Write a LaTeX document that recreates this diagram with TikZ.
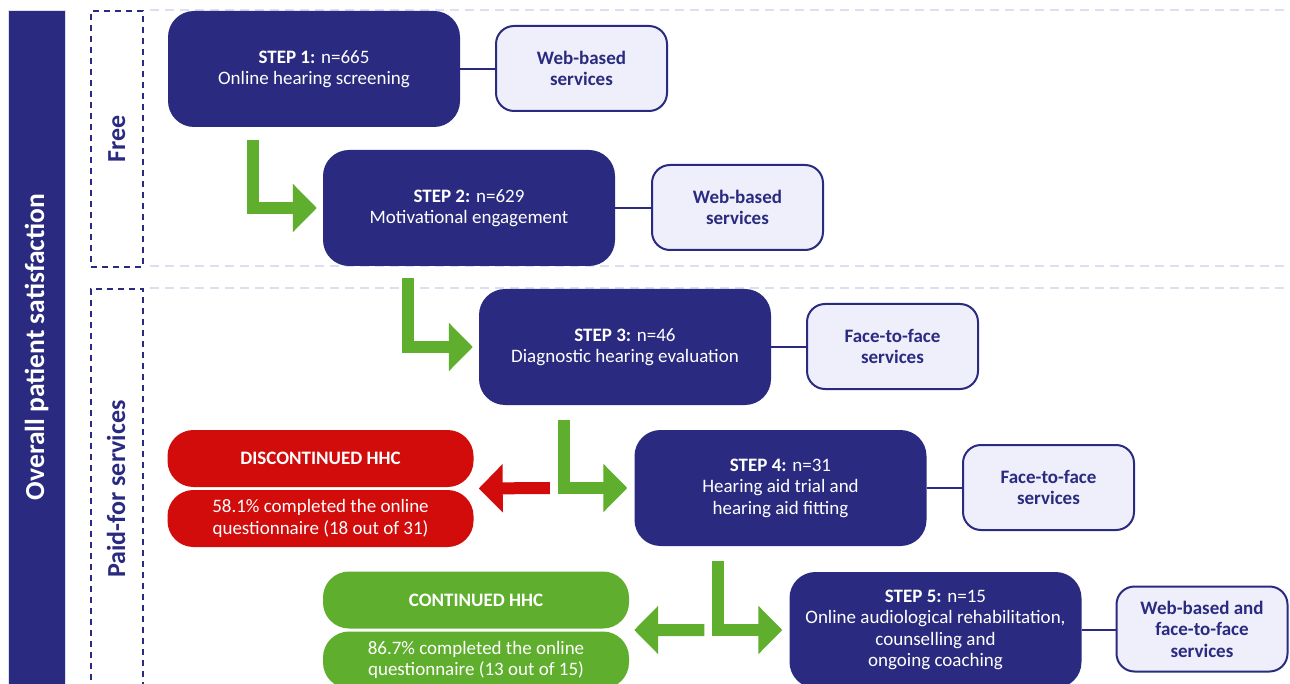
\documentclass[tikz,border=0pt]{standalone}
\usepackage{fontspec}
\setmainfont{Carlito}
\usetikzlibrary{arrows.meta,calc}
\definecolor{navy}{HTML}{2A2B80}
\definecolor{svcfill}{HTML}{EEEFFA}
\definecolor{hred}{HTML}{D20B0B}
\definecolor{hgreen}{HTML}{5FAE2E}
\definecolor{lightdash}{HTML}{DCDFF2}
\begin{document}
\begin{tikzpicture}[x=1pt,y=-1pt,
  stepbox/.style={fill=navy, rounded corners=26pt, minimum width=292pt, minimum height=116pt, inner sep=0pt, text=white, align=center, font=\fontsize{19}{21.5}\selectfont},
  svcbox/.style={fill=svcfill, draw=navy, line width=2pt, rounded corners=18pt, minimum width=171pt, minimum height=85pt, inner sep=0pt, text=navy, align=center, font=\fontsize{19}{21.5}\selectfont\bfseries},
  resbox/.style={rounded corners=26pt, minimum width=306pt, minimum height=57pt, inner sep=0pt, text=white, align=center, font=\fontsize{19}{21.5}\selectfont},
  link/.style={draw=navy, line width=2pt},
  flow/.style={line width=12pt, line join=miter, -{Triangle[length=24pt,width=47pt]}},
  phasebox/.style={draw=navy, line width=1.8pt, dash pattern=on 6pt off 5pt},
  sepline/.style={draw=lightdash, line width=1.5pt, dash pattern=on 9pt off 6pt},
  phaselabel/.style={rotate=90, text=navy, font=\fontsize{26}{30}\selectfont\bfseries}
]
\clip (0,0) rectangle (1290,684);
\fill[white] (0,0) rectangle (1290,684);
% left bar
\node[fill=navy, draw=lightdash, line width=1pt, minimum width=57pt, minimum height=700pt, inner sep=0pt, anchor=north west] (bar) at (8,10) {};
\node[rotate=90, text=white, font=\fontsize{27.5}{30}\selectfont\bfseries] (barlabel) at (36.5,347) {Overall patient satisfaction};
% phase boxes
\node[phasebox, minimum width=52pt, minimum height=256pt, inner sep=0pt, anchor=north west] (free) at (90,10) {};
\node[phaselabel] (freelabel) at (free.center) {Free};
\node[phasebox, minimum width=52pt, minimum height=402pt, inner sep=0pt, anchor=north west] (paid) at (90,288) {};
\node[phaselabel] (paidlabel) at (116,489) {Paid-for services};
% separator lines
\draw[sepline] (150,10) -- (1290,10);
\draw[sepline] (150,266) -- (1290,266);
\draw[sepline] (150,288) -- (1290,288);
% steps
\node[stepbox] (s1) at (314,69) {\textbf{STEP 1:} n=665\\Online hearing screening};
\node[svcbox] (v1) at (581.5,68.5) {Web-based\\services};
\node[stepbox] (s2) at (469,208) {\textbf{STEP 2:} n=629\\Motivational engagement};
\node[svcbox] (v2) at (737.5,207.5) {Web-based\\services};
\node[stepbox] (s3) at (625,347) {\textbf{STEP 3:} n=46\\Diagnostic hearing evaluation};
\node[svcbox] (v3) at (892.5,346.5) {Face-to-face\\services};
\node[stepbox] (s4) at (780.5,488) {\textbf{STEP 4:} n=31\\Hearing aid trial and\\hearing aid fitting};
\node[svcbox] (v4) at (1048.5,487.5) {Face-to-face\\services};
\node[stepbox] (s5) at (935.5,630) {\textbf{STEP 5:} n=15\\Online audiological rehabilitation,\\counselling and\\ongoing coaching};
\node[svcbox] (v5) at (1202,629) {Web-based and\\face-to-face\\services};
% results
\node[resbox, fill=hred, font=\fontsize{19}{21.5}\selectfont\bfseries] (d1) at (320.5,458.5) {DISCONTINUED HHC};
\node[resbox, fill=hred] (d2) at (320.5,518.5) {58.1\% completed the online\\questionnaire (18 out of 31)};
\node[resbox, fill=hgreen, font=\fontsize{19}{21.5}\selectfont\bfseries] (c1) at (476,600) {CONTINUED HHC};
\node[resbox, fill=hgreen] (c2) at (476,660) {86.7\% completed the online\\questionnaire (13 out of 15)};
% links
\foreach \s/\v in {s1/v1,s2/v2,s3/v3,s4/v4,s5/v5}{
  \draw[link] (\s.east) -- (\s.east -| \v.west);
}
% flow arrows
\coordinate (a1) at ($(s1.south west)+(85,13)$);
\coordinate (a2) at ($(s2.south west)+(85,12)$);
\coordinate (a3) at ($(s3.south west)+(85,15)$);
\coordinate (a4) at ($(s4.south west)+(84,15)$);
\draw[flow, hgreen] (a1) |- ($(s2.west)+(-6,0)$);
\draw[flow, hgreen] (a2) |- ($(s3.west)+(-6,0)$);
\draw[flow, hgreen] (a3) |- ($(s4.west)+(-7,0)$);
\draw[flow, hgreen] (a4) |- ($(s5.west)+(-7,0)$);
\coordinate (dmid) at ($(d1.south east)!0.5!(d2.north east)$);
\coordinate (cmid) at ($(c1.south east)!0.5!(c2.north east)$);
\draw[flow, hred] ($(a3 |- s4.west)+(-14,0)$) -- ($(dmid)+(5,0)$);
\draw[flow, hgreen] ($(a4 |- s5.west)+(-14,0)$) -- ($(cmid)+(5,0)$);
\end{tikzpicture}
\end{document}
